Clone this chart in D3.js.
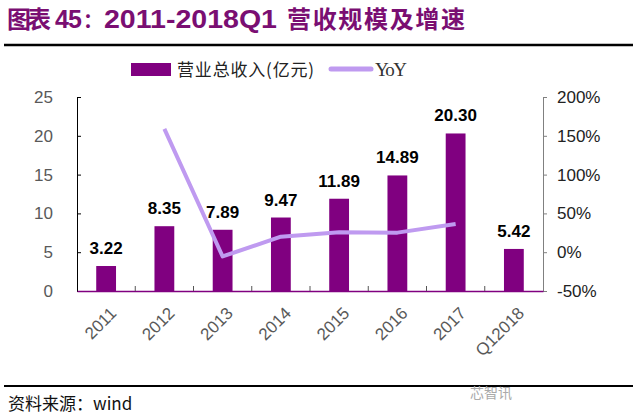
<!DOCTYPE html>
<html><head><meta charset="utf-8">
<script src="https://cdn.jsdelivr.net/npm/d3@7"></script>
<style>body{margin:0;background:#fff}svg{display:block}</style>
</head><body>
<script>
const categories = ["2011","2012","2013","2014","2015","2016","2017","Q12018"];
const revenue = [3.22,8.35,7.89,9.47,11.89,14.89,20.30,5.42];
const yoyCats = ["2012","2013","2014","2015","2016","2017"];
const yoy = [1.59,-0.055,0.20,0.256,0.252,0.363];
const leftTicks = [0,5,10,15,20,25];
const rightTicks = [-0.5,0,0.5,1,1.5,2];

const W=633,H=420;
const svg=d3.select("body").append("svg").attr("width",W).attr("height",H);
const purple="#800080", lav="#BF9AF0";
const L=77,R=543,T=97,B=291;
const cjk="'Noto Sans CJK SC',sans-serif", lat="'Liberation Sans',Arial,sans-serif";

// title
const tc="#7A0E72";
svg.append("text").attr("x",7).attr("y",28).attr("fill",tc).attr("font-family",cjk).attr("font-weight","bold").attr("font-size",24).attr("textLength",44).text("图表");
svg.append("text").attr("x",55).attr("y",28).attr("fill",tc).attr("font-family",lat).attr("font-weight","bold").attr("font-size",25).attr("textLength",27).text("45");
svg.append("text").attr("x",83).attr("y",28).attr("fill",tc).attr("font-family",cjk).attr("font-weight","bold").attr("font-size",20).text("：");
svg.append("text").attr("x",104).attr("y",28).attr("fill",tc).attr("font-family",lat).attr("font-weight","bold").attr("font-size",25).attr("textLength",173).attr("lengthAdjust","spacingAndGlyphs").text("2011-2018Q1");
svg.append("text").attr("x",287).attr("y",28).attr("fill",tc).attr("font-family",cjk).attr("font-weight","bold").attr("font-size",24).attr("textLength",178).text("营收规模及增速");
svg.append("line").attr("x1",4).attr("x2",W).attr("y1",45).attr("y2",45).attr("stroke","#000").attr("stroke-width",2.5);

const x=d3.scaleBand().domain(categories).range([L,R]).paddingInner(0.66).paddingOuter(0.33);
const xb=d3.scaleBand().domain(categories).range([L,R]);
const yL=d3.scaleLinear().domain([0,25]).range([B,T]);
const yR=d3.scaleLinear().domain([-0.5,2]).range([B,T]);

// left axis
const gl=svg.append("g").attr("transform",`translate(${L},0)`)
  .call(d3.axisLeft(yL).tickValues(leftTicks).tickSize(-4).tickPadding(24));
gl.select(".domain").attr("stroke","#000");
gl.selectAll(".tick line").attr("stroke","#000");
gl.selectAll("text").attr("font-family",lat).attr("font-size",17).attr("fill","#595959");

const gr=svg.append("g").attr("transform",`translate(${R},0)`)
  .call(d3.axisRight(yR).tickValues(rightTicks).tickSize(4).tickPadding(10).tickFormat(d=>Math.round(d*100)+"%"));
gr.select(".domain").attr("stroke","#808080");
gr.selectAll(".tick line").attr("stroke","#808080");
gr.selectAll("text").attr("font-family",lat).attr("font-size",17).attr("fill","#222");

// bars
svg.selectAll("rect.bar").data(revenue).join("rect").attr("class","bar")
  .attr("x",(d,i)=>x(categories[i])).attr("width",x.bandwidth())
  .attr("y",d=>yL(d)).attr("height",d=>B-yL(d)).attr("fill",purple);

// x axis
const gx=svg.append("g").attr("transform",`translate(0,${B})`)
  .call(d3.axisBottom(xb).tickSize(0).tickFormat(""));
gx.select(".domain").attr("stroke",purple).attr("stroke-width",1.5);
svg.selectAll("line.xt").data(categories.slice(1)).join("line").attr("class","xt")
  .attr("x1",d=>xb(d)).attr("x2",d=>xb(d)).attr("y1",B).attr("y2",B-5).attr("stroke","#555");

svg.selectAll("text.xl").data(categories).join("text").attr("class","xl")
  .attr("transform",d=>`translate(${xb(d)+xb.bandwidth()/2+3},${B+15}) rotate(-45)`)
  .attr("text-anchor","end").attr("dy","0.7em")
  .attr("font-family",lat).attr("font-size",17).attr("fill","#595959").text(d=>d);

// labels
svg.selectAll("text.vl").data(revenue).join("text").attr("class","vl")
  .attr("x",(d,i)=>x(categories[i])+x.bandwidth()/2).attr("y",d=>yL(d)-12)
  .attr("text-anchor","middle").attr("font-family",lat)
  .attr("font-weight","bold").attr("font-size",17).attr("fill","#000").text(d=>d.toFixed(2));

// line
const line=d3.line().x((d,i)=>xb(yoyCats[i])+xb.bandwidth()/2).y(d=>yR(d));
svg.append("path").datum(yoy).attr("d",line).attr("fill","none").attr("stroke",lav).attr("stroke-width",4).attr("stroke-linejoin","round");

// legend
svg.append("rect").attr("x",131).attr("y",63).attr("width",40).attr("height",13).attr("fill",purple);
svg.append("text").attr("x",177).attr("y",76).attr("font-family",cjk).attr("font-size",17).attr("fill","#222").attr("textLength",137).text("营业总收入(亿元)");
svg.append("line").attr("x1",331).attr("x2",371).attr("y1",69).attr("y2",69).attr("stroke",lav).attr("stroke-width",5).attr("stroke-linecap","round");
svg.append("text").attr("x",375).attr("y",76).attr("font-family","'Liberation Serif','DejaVu Serif',serif").attr("font-size",19).attr("fill","#333").attr("textLength",32).text("YoY");

// footer
svg.append("line").attr("x1",4).attr("x2",W).attr("y1",386).attr("y2",386).attr("stroke","#000").attr("stroke-width",2);
svg.append("text").attr("x",8).attr("y",410).attr("font-family",cjk).attr("font-size",17).attr("fill","#111").text("资料来源：wind");
svg.append("text").attr("x",470).attr("y",398).attr("font-family",cjk).attr("font-size",14).attr("fill","#aaa").text("芯智讯");
</script>
</body></html>
